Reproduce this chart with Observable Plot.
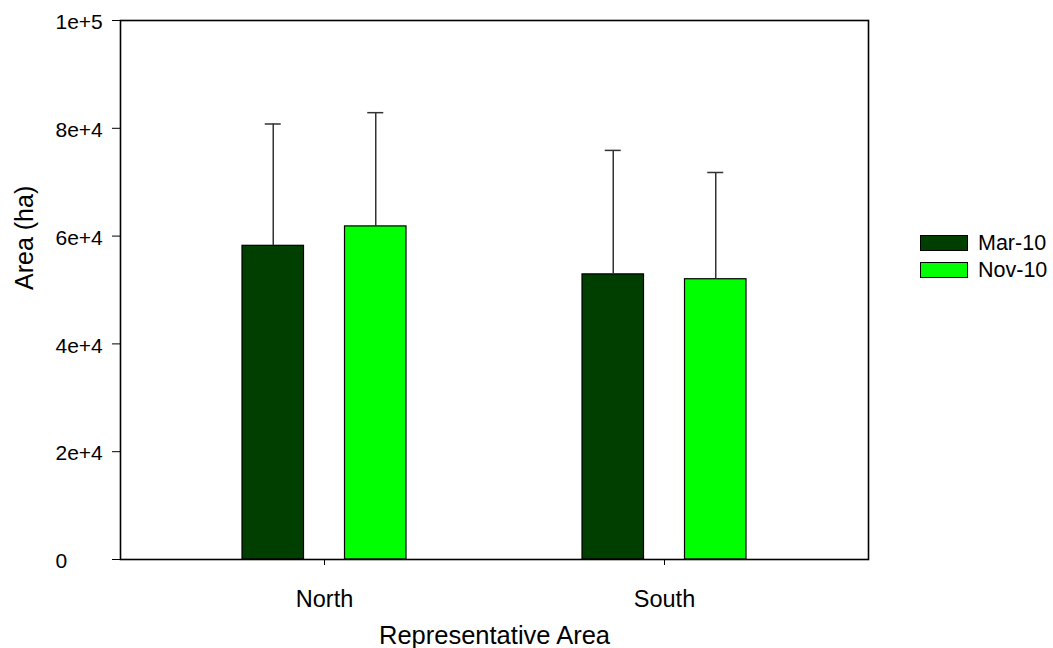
<!DOCTYPE html>
<html>
<head>
<meta charset="utf-8">
<script src="https://cdn.jsdelivr.net/npm/d3@7"></script>
<script src="https://cdn.jsdelivr.net/npm/@observablehq/plot@0.6"></script>
<style>
  html, body { margin: 0; padding: 0; background: #fff; }
  body { font-family: "Liberation Sans", Arial, sans-serif; }
  #wrap { position: relative; width: 1053px; height: 648px; }
  #legend { position: absolute; left: 920px; top: 235px; }
  .item { display: flex; align-items: center; height: 16px; margin-bottom: 11px; }
  .sw { width: 48px; height: 16px; box-sizing: border-box; border: 1.5px solid #000; }
  .lab { margin-left: 10px; font-size: 21.5px; line-height: 16px; color: #000; }
</style>
</head>
<body>
<div id="wrap"></div>
<script>
const regions = ["North", "South"];
const series = ["Mar-10", "Nov-10"];
const marMeans = [58200, 52900];
const marSD = [22600, 23000];
const novMeans = [61800, 52000];
const novSD = [21100, 19800];
const colors = ["#003F00", "#00FF00"];
const yTicks = [0, 20000, 40000, 60000, 80000, 100000];
const xTitle = "Representative Area";
const yTitle = "Area (ha)";

const marRows = regions.map((r, i) => ({region: r, series: series[0], mean: marMeans[i], sd: marSD[i]}));
const novRows = regions.map((r, i) => ({region: r, series: series[1], mean: novMeans[i], sd: novSD[i]}));

const fmt = d => d === 0 ? "0" : d.toExponential(0);
const up = d => d.mean + d.sd;

const chart = Plot.plot({
  width: 1053,
  height: 648,
  marginLeft: 120,
  marginRight: 185,
  marginTop: 20,
  marginBottom: 89,
  style: {fontFamily: "'Liberation Sans', Arial, sans-serif", fontSize: "21px", color: "#000", background: "#fff"},
  x: {domain: regions, paddingInner: 0.5176, paddingOuter: 0.3588, label: null},
  y: {domain: [0, 100000], label: null},
  marks: [
    Plot.barY(marRows, {x: "region", y: "mean", fill: colors[0], stroke: "#000", strokeWidth: 1.2, insetLeft: 0, insetRight: 102.5}),
    Plot.barY(novRows, {x: "region", y: "mean", fill: colors[1], stroke: "#000", strokeWidth: 1.2, insetLeft: 102.5, insetRight: 0}),
    Plot.ruleX(marRows, {x: "region", y1: "mean", y2: up, dx: -51.25, stroke: "#333", strokeWidth: 1.5}),
    Plot.ruleX(novRows, {x: "region", y1: "mean", y2: up, dx: 51.25, stroke: "#333", strokeWidth: 1.5}),
    Plot.tickY(marRows, {x: "region", y: up, dx: -51.25, insetLeft: 74, insetRight: 74, stroke: "#333", strokeWidth: 1.5}),
    Plot.tickY(novRows, {x: "region", y: up, dx: 51.25, insetLeft: 74, insetRight: 74, stroke: "#333", strokeWidth: 1.5}),
    Plot.frame({stroke: "#000", strokeWidth: 1.6}),
    Plot.axisY({ticks: yTicks, tickSize: 8, tickFormat: () => "", label: null}),
    Plot.text(yTicks, {y: d => d, text: fmt, frameAnchor: "left", textAnchor: "start", lineAnchor: "middle", dx: -65, dy: 2, fontSize: 21}),
    Plot.axisX({tickSize: 6, tickPadding: 25, fontSize: 23.5, label: null}),
    Plot.text([yTitle], {text: d => d, frameAnchor: "left", dx: -96, rotate: -90, lineAnchor: "middle", fontSize: 25}),
    Plot.text([xTitle], {text: d => d, frameAnchor: "bottom", dy: 76, lineAnchor: "middle", fontSize: 25.5})
  ]
});
const wrap = document.getElementById("wrap");
wrap.appendChild(chart);

const legend = document.createElement("div");
legend.id = "legend";
series.forEach((s, i) => {
  const item = document.createElement("div");
  item.className = "item";
  const sw = document.createElement("div");
  sw.className = "sw";
  sw.style.background = colors[i];
  const lab = document.createElement("span");
  lab.className = "lab";
  lab.textContent = s;
  item.appendChild(sw);
  item.appendChild(lab);
  legend.appendChild(item);
});
wrap.appendChild(legend);
</script>
</body>
</html>
